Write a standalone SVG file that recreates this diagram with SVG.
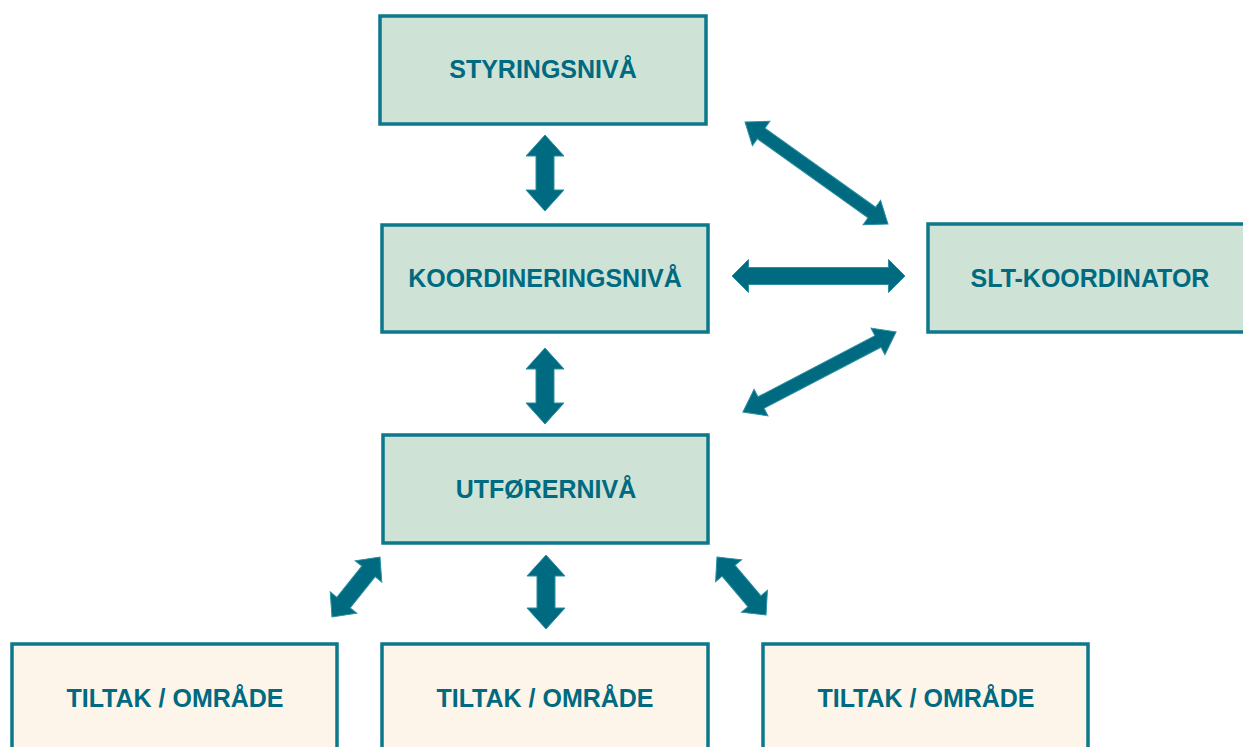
<svg xmlns="http://www.w3.org/2000/svg" width="1243" height="747" viewBox="0 0 1243 747">
<style>
.lvl{fill:#cfe2d6;stroke:#0b788b;stroke-width:3.5}
.act{fill:#fdf5ea;stroke:#0b788b;stroke-width:3.5}
.t{font-family:"Liberation Sans",Arial,sans-serif;font-weight:bold;font-size:25px;fill:#006a80;text-anchor:middle}
.arr{fill:#006a80;stroke:#2a8fa2;stroke-width:1}
</style>
<rect width="1243" height="747" fill="#ffffff"/>
<g id="styring"><rect class="lvl" x="380" y="16" width="326" height="108"/><text class="t" x="543" y="78">STYRINGSNIVÅ</text></g>
<g id="koordinering"><rect class="lvl" x="382" y="225" width="326" height="107"/><text class="t" x="545" y="287">KOORDINERINGSNIVÅ</text></g>
<g id="utforer"><rect class="lvl" x="383" y="435" width="325" height="108"/><text class="t" x="546" y="498">UTFØRERNIVÅ</text></g>
<g id="slt"><rect class="lvl" x="928" y="224" width="320" height="108"/><text class="t" x="1090" y="287">SLT-KOORDINATOR</text></g>
<g id="tiltak1"><rect class="act" x="12" y="644" width="325" height="110"/><text class="t" x="175" y="707">TILTAK / OMRÅDE</text></g>
<g id="tiltak2"><rect class="act" x="382" y="644" width="326" height="110"/><text class="t" x="545" y="707">TILTAK / OMRÅDE</text></g>
<g id="tiltak3"><rect class="act" x="763" y="644" width="325" height="110"/><text class="t" x="926" y="707">TILTAK / OMRÅDE</text></g>
<g id="connectors">
<polygon class="arr" transform="translate(545,173) rotate(90)" points="-38,0 -17,-19 -17,-9 17,-9 17,-19 38,0 17,19 17,9 -17,9 -17,19"/>
<polygon class="arr" transform="translate(545,386) rotate(90)" points="-38,0 -17,-19 -17,-9 17,-9 17,-19 38,0 17,19 17,9 -17,9 -17,19"/>
<polygon class="arr" transform="translate(546,592) rotate(90)" points="-37,0 -16,-19 -16,-9 16,-9 16,-19 37,0 16,19 16,9 -16,9 -16,19"/>
<polygon class="arr" transform="translate(818.5,276) rotate(0)" points="-86.5,0 -70,-16.5 -70,-8.5 70,-8.5 70,-16.5 86.5,0 70,16.5 70,8.5 -70,8.5 -70,16.5"/>
<polygon class="arr" transform="translate(816.5,173) rotate(35.5)" points="-87.8,0 -68,-15 -68,-6.5 68,-6.5 68,-15 87.8,0 68,15 68,6.5 -68,6.5 -68,15"/>
<polygon class="arr" transform="translate(819.5,372) rotate(-27.6)" points="-86.4,0 -66,-15 -66,-6.5 66,-6.5 66,-15 86.4,0 66,15 66,6.5 -66,6.5 -66,15"/>
<polygon class="arr" transform="translate(356,587) rotate(-51.3)" points="-38.4,0 -20,-17 -20,-8.5 20,-8.5 20,-17 38.4,0 20,17 20,8.5 -20,8.5 -20,17"/>
<polygon class="arr" transform="translate(741.5,586) rotate(49.8)" points="-38,0 -20,-17 -20,-8.5 20,-8.5 20,-17 38,0 20,17 20,8.5 -20,8.5 -20,17"/>
</g>
</svg>
